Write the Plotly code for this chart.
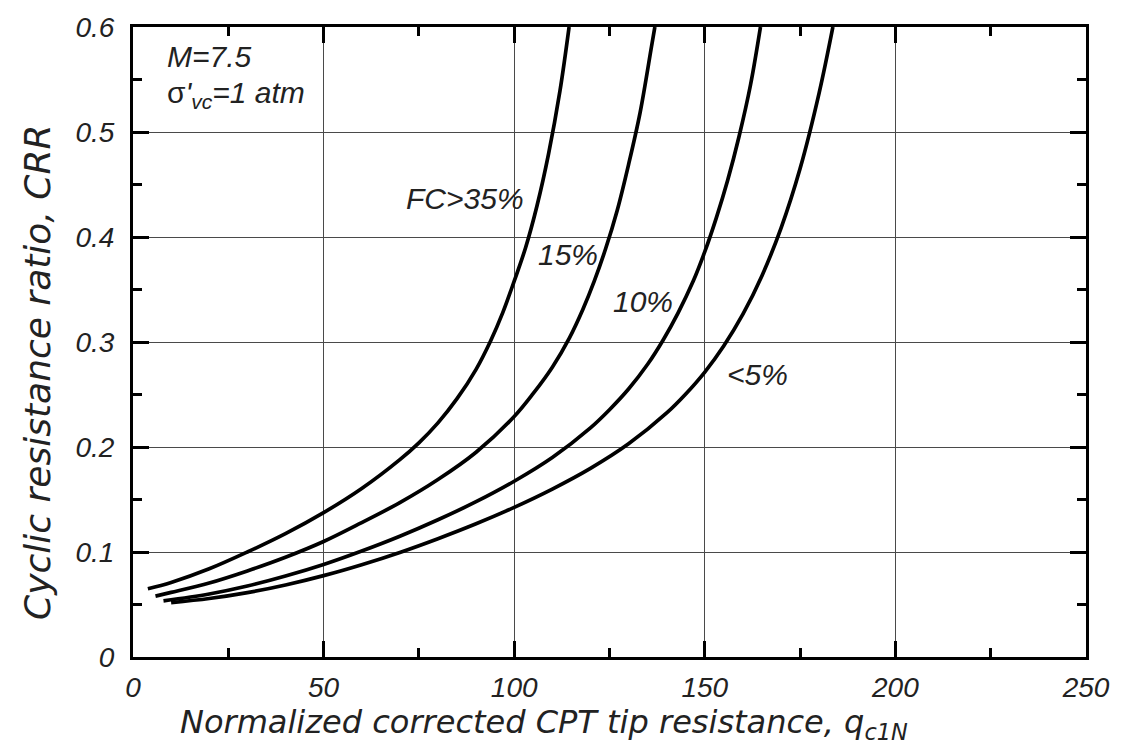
import plotly.graph_objects as go

# Values (qc1N, CRR)
q_fc35 = [3.9, 10, 20, 30, 40, 50, 60, 70, 75, 80, 85, 90, 93.8, 97, 100, 103, 106, 109, 112, 114.4]
crr_fc35 = [0.065, 0.071, 0.084, 0.100, 0.1175, 0.1375, 0.1605, 0.188, 0.204, 0.223, 0.246, 0.274, 0.301,
            0.328, 0.358, 0.390, 0.430, 0.479, 0.539, 0.600]

q_fc15 = [5.9, 10, 20, 30, 40, 50, 60, 70, 80, 90, 100, 105, 110, 114.5, 118, 121, 124, 127, 130, 133, 136, 136.9]
crr_fc15 = [0.058, 0.0615, 0.0705, 0.082, 0.095, 0.110, 0.128, 0.147, 0.169, 0.195, 0.229, 0.251, 0.276,
            0.304, 0.331, 0.358, 0.389, 0.425, 0.469, 0.518, 0.581, 0.600]

q_fc10 = [8, 20, 30, 40, 50, 60, 70, 80, 90, 100, 110, 120, 125, 130, 135, 139, 143, 147, 150, 153, 156,
          159, 162, 164.6]
crr_fc10 = [0.0535, 0.060, 0.0676, 0.0771, 0.0881, 0.1009, 0.115, 0.1307, 0.1479, 0.1674, 0.190, 0.2182,
            0.2355, 0.2552, 0.2788, 0.3015, 0.3278, 0.3583, 0.386, 0.418, 0.454, 0.496, 0.545, 0.600]

q_fc5 = [10, 20, 30, 40, 50, 60, 70, 80, 90, 100, 110, 120, 130, 140, 145, 150, 155, 160, 165, 170, 175,
         180, 183.6]
crr_fc5 = [0.0518, 0.0557, 0.0613, 0.0686, 0.0775, 0.0879, 0.0996, 0.1127, 0.1269, 0.1425, 0.1599, 0.1796,
           0.2030, 0.2324, 0.2505, 0.2714, 0.2965, 0.3265, 0.3632, 0.4085, 0.4652, 0.5373, 0.600]

curve_labels = ["FC>35%", "15%", "10%", "<5%"]
label_q = [87.2, 114.2, 133.8, 163.8]
label_crr = [0.437, 0.383, 0.339, 0.269]

x_ticks = [0, 50, 100, 150, 200, 250]
y_ticks = [0, 0.1, 0.2, 0.3, 0.4, 0.5, 0.6]
y_ticktext = ["0", "0.1", "0.2", "0.3", "0.4", "0.5", "0.6"]

FONT = "Liberation Sans"
TFONT = "DejaVu Sans"
TXT = "#222222"

fig = go.Figure()
for q, c, name in [(q_fc35, crr_fc35, "FC>35%"), (q_fc15, crr_fc15, "15%"),
                   (q_fc10, crr_fc10, "10%"), (q_fc5, crr_fc5, "<5%")]:
    fig.add_trace(go.Scatter(x=q, y=c, mode="lines", name=name,
                             line=dict(color="black", width=3.7, shape="spline", smoothing=1.0),
                             showlegend=False, hoverinfo="skip"))

for t, xq, yc in zip(curve_labels, label_q, label_crr):
    fig.add_annotation(x=xq, y=yc, text=t, showarrow=False, xanchor="center", yanchor="middle",
                       font=dict(family=FONT, size=30, color=TXT, style="italic"))

fig.add_annotation(xref="paper", yref="paper", x=0.034, y=0.953, xanchor="left", yanchor="middle",
                   text="<i>M=7.5</i>", showarrow=False,
                   font=dict(family=FONT, size=30, color=TXT))
fig.add_annotation(xref="paper", yref="paper", x=0.034, y=0.893, xanchor="left", yanchor="middle",
                   text="σ<i>'<sub>vc</sub>=1 atm</i>", showarrow=False,
                   font=dict(family=FONT, size=30, color=TXT))

# axis titles (placed as in the reference, slightly off-centre)
fig.add_annotation(xref="paper", yref="paper", x=0.431, y=-0.1424, xanchor="center", yanchor="bottom",
                   text="<i>Normalized corrected CPT tip resistance, q<sub>c1N</sub></i>", showarrow=False,
                   font=dict(family=TFONT, size=32, color=TXT))
fig.add_annotation(xref="paper", yref="paper", x=-0.100, y=0.452, xanchor="center", yanchor="middle",
                   text="<i>Cyclic resistance ratio, CRR</i>", showarrow=False, textangle=-90,
                   font=dict(family=TFONT, size=36, color=TXT))

axis_common = dict(showline=True, linewidth=3, linecolor="black", mirror="ticks",
                   ticks="inside", ticklen=16, tickwidth=3, tickcolor="black",
                   showgrid=True, gridcolor="#4a4a4a", gridwidth=1, zeroline=False)

fig.update_xaxes(range=[0, 250], tickvals=x_ticks, ticktext=[str(v) for v in x_ticks],
                 tickfont=dict(family=FONT, size=28, color=TXT, style="italic"),
                 ticklabelstandoff=3,
                 minor=dict(dtick=25, tick0=0, ticks="inside", ticklen=9, tickwidth=3,
                            tickcolor="black", showgrid=False),
                 **axis_common)
fig.update_yaxes(range=[0, 0.6], tickvals=y_ticks, ticktext=y_ticktext,
                 tickfont=dict(family=FONT, size=28, color=TXT, style="italic"),
                 ticklabelstandoff=10,
                 minor=dict(dtick=0.05, tick0=0, ticks="inside", ticklen=9, tickwidth=3,
                            tickcolor="black", showgrid=False),
                 **axis_common)

fig.update_layout(width=1122, height=749, margin=dict(l=133, r=30, t=18, b=92),
                  plot_bgcolor="white", paper_bgcolor="white")

fig.write_html("out.html")
